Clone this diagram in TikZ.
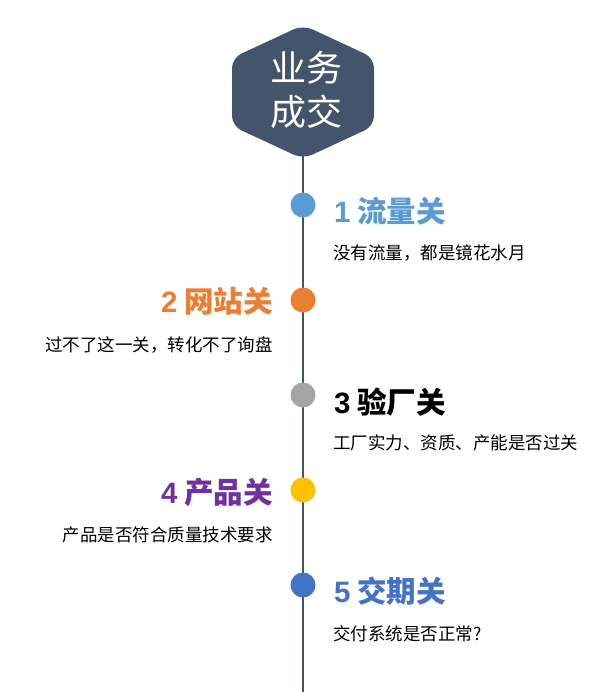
\documentclass[tikz,border=0pt]{standalone}
\usepackage{fontspec}
\setmainfont{Noto Sans CJK SC}
\newfontfamily\numfont{Liberation Sans}
\definecolor{slate}{HTML}{44546A}
\definecolor{gateblue}{HTML}{5B9BD5}
\definecolor{gateorange}{HTML}{ED7D31}
\definecolor{gategray}{HTML}{A5A5A5}
\definecolor{gateyellow}{HTML}{FFC000}
\definecolor{gatepurple}{HTML}{7030A0}
\definecolor{gatedeep}{HTML}{4472C4}
\begin{document}
\begin{tikzpicture}
            [x=1pt,y=-1pt,
             dot/.style ={circle,fill=#1,minimum size=25pt,inner sep=0pt},
             title/.style ={font=\fontsize{29.5}{31}\selectfont\bfseries,text=#1,inner sep=0pt},
             desc/.style ={font=\fontsize{17.5}{20}\selectfont,inner sep=0pt}]
            \useasboundingbox (0,0) rectangle (603,692);
            \fill[slate,rounded corners=10pt] (303,25) -- (374,58) -- (374,126) -- (303,159) -- (232,126) -- (232,58) -- cycle;
            \node[text=white,align=center,font=\fontsize{36}{44}\selectfont] (deal) at (306,90) {业务\\成交};
            \coordinate (top) at (303,150);
            \coordinate (bottom) at (303,692);
            \draw[slate,line width=2pt] (top) -- (bottom);
            \node[dot=gateblue] (d1) at (303,205){};
            \node[dot=gateorange] (d2) at (303,300){};
            \node[dot=gategray] (d3) at (303,395){};
            \node[dot=gateyellow] (d4) at (303,490){};
            \node[dot=gatedeep] (d5) at (303,585){};
            \node[title=gateblue,anchor=west] (t1) at (334,211){{\numfont\bfseries 1} 流量关};
            \node[desc,anchor=west] (s1) at (333,253){没有流量，都是镜花水月};
            \node[title=gateorange,anchor=east] (t2) at (273,301){{\numfont\bfseries 2} 网站关};
            \node[desc,anchor=east] (s2) at (273,345){过不了这一关，转化不了询盘};
            \node[title=black,anchor=west] (t3) at (334,402){{\numfont\bfseries 3} 验厂关};
            \node[desc,anchor=west] (s3) at (333,443){工厂实力、资质、产能是否过关};
            \node[title=gatepurple,anchor=east] (t4) at (273,492){{\numfont\bfseries 4} 产品关};
            \node[desc,anchor=east] (s4) at (273,535){产品是否符合质量技术要求};
            \node[title=gatedeep,anchor=west] (t5) at (334,591){{\numfont\bfseries 5} 交期关};
            \node[desc,anchor=west] (s5) at (333,634){交付系统是否正常?};
        \end{tikzpicture}
\end{document}
